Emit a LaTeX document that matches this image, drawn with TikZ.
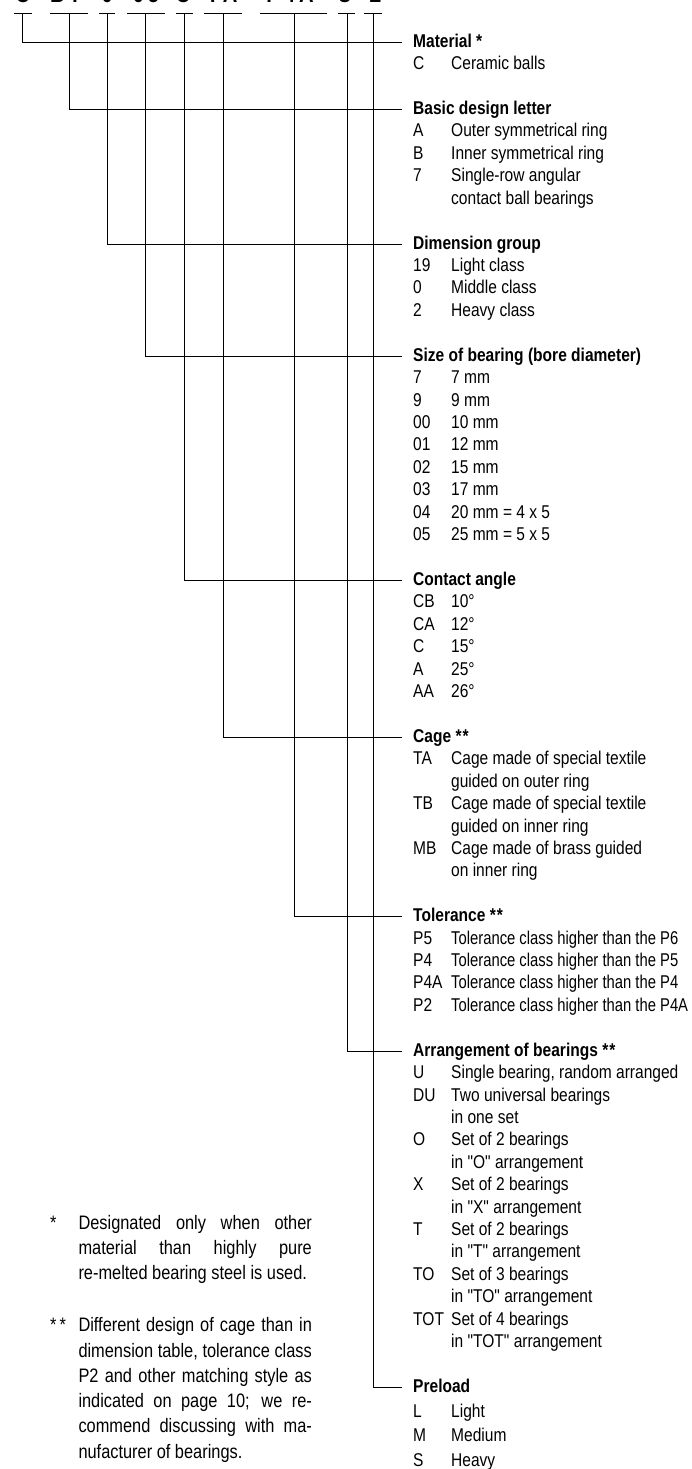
\documentclass[tikz,border=0pt]{standalone}
\usepackage{fontspec}
\setmainfont{Liberation Sans}[FakeStretch=0.84, Ligatures=TeXOff]
\newfontfamily\tightfont{Liberation Sans}[FakeStretch=0.80, Ligatures=TeXOff]
\tikzset{
  txt/.style={anchor=base west, inner sep=0pt, font=\fontsize{18.5}{22.4}\selectfont},
  tighttxt/.style={anchor=base west, inner sep=0pt, font=\fontsize{18.5}{22.4}\tightfont},
  hd/.style={anchor=base west, inner sep=0pt, font=\fontsize{18.5}{22.4}\selectfont\bfseries},
  fn/.style={anchor=base west, inner sep=0pt, font=\fontsize{19.5}{25.3}\selectfont},
  conn/.style={line width=1pt},
  des/.style={anchor=base, inner sep=0pt, font=\fontsize{24}{28}\selectfont\bfseries},
}
\newcommand\Hd[6]{%
  \node[hd] (#1) at (413,{47.3+22.42*#2}) {#3};
  \coordinate (#1e) at (402,{42.3+22.42*#2});
  \coordinate (#1v) at (#4,13.3);
  \coordinate (#1a) at (#5,13.3);
  \coordinate (#1b) at (#6,13.3);
  \draw[conn] (#1a) -- (#1b);
  \draw[conn] (#1v) |- (#1e);}
\newcommand\Itm[3]{%
  \node[txt] (c#1) at (413,{47.3+22.42*#1}) {#2};
  \node[txt] (d#1) at (451,{47.3+22.42*#1}) {#3};}
\newcommand\Cnt[2]{%
  \node[txt] (d#1) at (451,{47.3+22.42*#1}) {#2};}
\newcommand\Tol[3]{%
  \node[txt] (c#1) at (413,{47.3+22.42*#1}) {#2};
  \node[tighttxt] (d#1) at (451,{47.3+22.42*#1}) {#3};}
\begin{document}
\begin{tikzpicture}[x=1pt,y=-1pt]
\useasboundingbox (0,0) rectangle (692,1469);
% designation letters (cut off at the top edge)
\node[des] (g1) at (22.7,2.7) {C};
\node[des] (g2) at (66,2.7) {B\hspace{6pt}7};
\node[des] (g3) at (107.3,2.7) {0};
\node[des] (g4) at (146,2.7) {0\hspace{4pt}5};
\node[des] (g5) at (183,2.7) {C};
\node[des] (g6) at (222,2.7) {T\hspace{4pt}A};
\node[des] (g7) at (290,2.7) {P\hspace{4pt}4\hspace{4pt}A};
\node[des] (g8) at (345,2.7) {U};
\node[des] (g9) at (375,2.7) {L};
% headings and connectors
\Hd{h1}{0}{Material *}{22.7}{14}{32}
\Hd{h2}{3}{Basic design letter}{69.3}{50}{88}
\Hd{h3}{9}{Dimension group}{107.3}{99}{115}
\Hd{h4}{14}{Size of bearing (bore diameter)}{145.7}{127}{165}
\Hd{h5}{24}{Contact angle}{184.3}{176}{193}
\Hd{h6}{31}{Cage *\hspace{1pt}*}{223.3}{204}{242}
\Hd{h7}{39}{Tolerance *\hspace{1pt}*}{294}{260}{327}
\Hd{h8}{45}{Arrangement of bearings *\hspace{1pt}*}{347}{338}{355}
\Hd{h9}{60}{Preload}{373.3}{364}{382}
% items
\Itm{1}{C}{Ceramic balls}
\Itm{4}{A}{Outer symmetrical ring}
\Itm{5}{B}{Inner symmetrical ring}
\Itm{6}{7}{Single-row angular}
\Cnt{7}{contact ball bearings}
\Itm{10}{19}{Light class}
\Itm{11}{0}{Middle class}
\Itm{12}{2}{Heavy class}
\Itm{15}{7}{7 mm}
\Itm{16}{9}{9 mm}
\Itm{17}{00}{10 mm}
\Itm{18}{01}{12 mm}
\Itm{19}{02}{15 mm}
\Itm{20}{03}{17 mm}
\Itm{21}{04}{20 mm = 4 x 5}
\Itm{22}{05}{25 mm = 5 x 5}
\Itm{25}{CB}{10°}
\Itm{26}{CA}{12°}
\Itm{27}{C}{15°}
\Itm{28}{A}{25°}
\Itm{29}{AA}{26°}
\Itm{32}{TA}{Cage made of special textile}
\Cnt{33}{guided on outer ring}
\Itm{34}{TB}{Cage made of special textile}
\Cnt{35}{guided on inner ring}
\Itm{36}{MB}{Cage made of brass guided}
\Cnt{37}{on inner ring}
\Tol{40}{P5}{Tolerance class higher than the P6}
\Tol{41}{P4}{Tolerance class higher than the P5}
\Tol{42}{P4A}{Tolerance class higher than the P4}
\Tol{43}{P2}{Tolerance class higher than the P4A}
\Itm{46}{U}{Single bearing, random arranged}
\Itm{47}{DU}{Two universal bearings}
\Cnt{48}{in one set}
\Itm{49}{O}{Set of 2 bearings}
\Cnt{50}{in "O" arrangement}
\Itm{51}{X}{Set of 2 bearings}
\Cnt{52}{in "X" arrangement}
\Itm{53}{T}{Set of 2 bearings}
\Cnt{54}{in "T" arrangement}
\Itm{55}{TO}{Set of 3 bearings}
\Cnt{56}{in "TO" arrangement}
\Itm{57}{TOT}{Set of 4 bearings}
\Cnt{58}{in "TOT" arrangement}
\node[txt] (pLc) at (413,1417.3) {L};
\node[txt] (pLd) at (451,1417.3) {Light};
\node[txt] (pMc) at (413,1441.8) {M};
\node[txt] (pMd) at (451,1441.8) {Medium};
\node[txt] (pSc) at (413,1466.4) {S};
\node[txt] (pSd) at (451,1466.4) {Heavy};
% footnotes
\node[fn] (f1s) at (50,1229) {*};
\node[fn] (f1a) at (78.3,1229) {\makebox[233.4pt][s]{Designated only when other}};
\node[fn] (f1b) at (78.3,1254.3) {\makebox[233.4pt][s]{material than highly pure}};
\node[fn] (f1c) at (78.3,1279.6) {re-melted bearing steel is used.};
\node[fn] (f2s) at (50,1331.7) {*\hspace{3pt}*};
\node[fn] (f2a) at (78.3,1331.7) {\makebox[233.4pt][s]{Different design of cage than in}};
\node[fn] (f2b) at (78.3,1357) {\makebox[233.4pt][s]{dimension table, tolerance class}};
\node[fn] (f2c) at (78.3,1382.3) {\makebox[233.4pt][s]{P2 and other matching style as}};
\node[fn] (f2d) at (78.3,1407.6) {\makebox[233.4pt][s]{indicated on page 10; we re-}};
\node[fn] (f2e) at (78.3,1432.9) {\makebox[233.4pt][s]{commend discussing with ma-}};
\node[fn] (f2f) at (78.3,1458.2) {nufacturer of bearings.};
\end{tikzpicture}
\end{document}
